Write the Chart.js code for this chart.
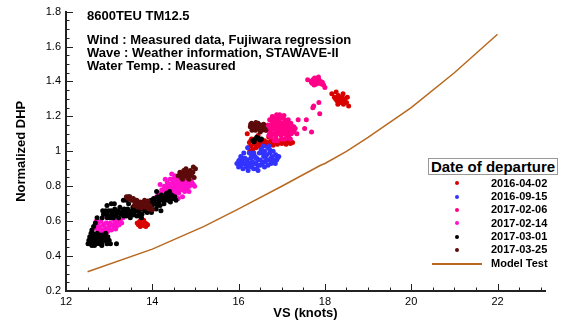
<!DOCTYPE html>
<html lang="en">
<head>
<meta charset="UTF-8">
<title>8600TEU TM12.5 - Normalized DHP</title>
<script src="https://cdn.jsdelivr.net/npm/chart.js"></script>
<style>
  html, body { margin: 0; padding: 0; background: #fff; }
  #wrap { position: relative; width: 567px; height: 323px; font-family: "Liberation Sans", Arial, sans-serif; }
  #wrap canvas { position: absolute; left: 0; top: 0; }
  .note { position: absolute; left: 87px; font-weight: bold; font-size: 13px; line-height: 13px; color: #000; white-space: nowrap; }
  #legendTitle { position: absolute; left: 428px; top: 158px; width: 128px; height: 15px; border: 1px solid #999; background: #fff;
                 font-weight: bold; font-size: 15px; line-height: 15px; text-align: center; white-space: nowrap; }
  .leg { position: absolute; left: 491px; font-weight: bold; font-size: 11px; line-height: 11px; white-space: nowrap; color: #000; }
  .dot { position: absolute; left: 455px; width: 4px; height: 4px; border-radius: 2px; }
  .legLine { position: absolute; left: 432px; width: 50px; height: 2px; }
</style>
</head>
<body>
<div id="wrap">
  <canvas id="dhpChart" width="567" height="323"></canvas>
  <div class="note" style="top:9px">8600TEU TM12.5</div>
  <div class="note" style="top:33px">Wind : Measured data, Fujiwara regression</div>
  <div class="note" style="top:46px">Wave : Weather information, STAWAVE-II</div>
  <div class="note" style="top:59px">Water Temp. : Measured</div>
  <div id="legendTitle">Date of departure</div>
  <div id="legendRows"></div>
</div>

<script>
// ---- data ----
const seriesLabels = ["2016-04-02", "2016-09-15", "2017-02-06", "2017-02-14", "2017-03-01", "2017-03-25"];

const dep160402 = [
  [13.65,0.59],[13.68,0.58],[13.71,0.60],[13.74,0.58],[13.77,0.595],[13.80,0.575],[13.83,0.59],[13.86,0.585],
  [13.89,0.58],[13.72,0.57],[13.80,0.605],[13.85,0.57],
  [16.22,1.02],[16.25,1.05],[16.28,1.03],[16.30,1.07],[16.33,1.01],[16.36,1.04],[16.40,1.02],[16.43,1.06],
  [16.46,1.03],[16.50,1.05],[16.53,1.01],[16.56,1.04],[16.60,1.06],[16.64,1.03],[16.68,1.05],[16.72,1.04],
  [16.76,1.06],[16.80,1.035],[16.85,1.05],[16.90,1.04],[16.95,1.06],[17.00,1.045],[17.05,1.05],[17.10,1.04],
  [17.15,1.055],[17.20,1.045],[17.25,1.05],[16.35,0.99],[16.45,1.09],[16.55,0.995],[16.70,1.08],[16.20,1.10],
  [16.28,1.06],[16.38,1.05],[16.48,1.04],[16.58,1.05],[16.26,1.00],
  [18.16,1.33],[18.22,1.31],[18.26,1.34],[18.28,1.29],[18.31,1.32],[18.34,1.30],[18.37,1.28],[18.40,1.31],
  [18.43,1.27],[18.46,1.30],[18.50,1.28],[18.55,1.26],[18.30,1.27],[18.42,1.33],[18.25,1.30],[18.52,1.31],
  [18.33,1.31],[18.38,1.30],[18.45,1.29]
];

const dep160915 = [
  [15.96,0.93],[16.00,0.91],[16.02,0.95],[16.05,0.92],[16.08,0.94],[16.10,0.90],[16.12,0.96],[16.15,0.93],
  [16.18,0.91],[16.20,0.95],[16.22,0.89],[16.25,0.93],[16.28,0.96],[16.30,0.91],[16.32,0.94],[16.35,0.90],
  [16.38,0.97],[16.40,0.93],[16.12,0.99],[16.05,0.97],[16.21,1.02],
  [16.42,0.96],[16.45,0.92],[16.48,0.99],[16.50,0.95],[16.52,1.01],[16.55,0.93],[16.58,0.97],[16.60,1.00],
  [16.62,0.94],[16.65,0.98],[16.68,1.02],[16.70,0.95],[16.72,0.99],[16.75,0.93],[16.78,0.97],[16.80,1.00],
  [16.83,0.95],[16.86,0.98],[16.90,0.96],[16.93,0.97],[16.57,1.03],[16.45,0.89],[16.60,0.91],[16.70,1.03],
  [16.35,0.99],[16.25,0.99],
  [16.15,0.96],[16.30,0.97],[16.45,0.95],[16.55,0.99],[16.65,0.95],[16.75,0.96],[16.85,0.93],[16.10,0.93],
  [16.20,0.92],[16.35,0.93],[16.50,0.92],[16.62,0.97],[16.72,1.01],[16.80,0.94],[16.40,0.96],[16.05,0.94],
  [16.27,0.915],[16.42,0.90],[16.58,0.94],[16.68,0.92],[16.88,0.95],[16.00,0.945]
];

const dep170206 = [
  [16.65,1.12],[16.68,1.15],[16.70,1.09],[16.72,1.18],[16.74,1.12],[16.76,1.15],[16.78,1.20],[16.80,1.10],
  [16.82,1.13],[16.84,1.17],[16.86,1.08],[16.88,1.21],[16.90,1.14],[16.92,1.11],[16.94,1.18],[16.96,1.15],
  [16.98,1.09],[17.00,1.12],[17.02,1.19],[17.04,1.16],[17.06,1.10],[17.08,1.13],[17.10,1.17],[17.12,1.11],
  [17.14,1.14],[17.16,1.08],[17.18,1.16],[17.20,1.12],[17.22,1.10],[17.25,1.14],[17.28,1.11],[17.31,1.13],
  [17.35,1.10],[16.80,1.16],[16.85,1.19],[16.95,1.21],[17.00,1.07],[16.75,1.08],[16.90,1.06],[17.05,1.205],
  [16.93,1.17],[16.87,1.12],[17.03,1.14],[16.97,1.12],[17.10,1.075],[16.83,1.06],[17.15,1.18],[17.20,1.07],
  [16.70,1.13],[16.78,1.14],[16.85,1.15],[16.92,1.15],[17.00,1.16],[17.07,1.18],[17.12,1.14],[17.18,1.13],
  [17.24,1.12],[16.82,1.10],[16.90,1.10],[16.98,1.13],[17.05,1.12],[17.13,1.09],[16.77,1.17],[16.86,1.16],
  [16.95,1.10],[17.02,1.10],[17.09,1.15],[16.72,1.10],[16.88,1.18],[16.97,1.19],[17.06,1.07],[17.16,1.11],
  [17.28,1.14],[17.21,1.16],[16.81,1.19],[16.91,1.20],
  [17.38,1.18],[17.57,1.18],[17.53,1.13],[17.69,1.11],[17.74,1.26],[17.86,1.28],[17.88,1.215],[17.72,1.25],
  [17.60,1.41],[17.68,1.40],[17.70,1.39],[17.72,1.41],[17.74,1.40],[17.76,1.42],[17.78,1.39],[17.80,1.41],
  [17.82,1.40],[17.84,1.395],[17.86,1.41],[17.88,1.39],[17.90,1.40],[17.92,1.385],[17.94,1.395],[17.97,1.38],
  [18.00,1.365],[17.75,1.38],[17.85,1.425],[17.80,1.385],
  [17.73,1.405],[17.79,1.40],[17.83,1.41],[17.87,1.40],[17.91,1.395]
];

const dep170214 = [
  [12.68,0.56],[12.72,0.58],[12.75,0.55],[12.78,0.57],[12.81,0.60],[12.84,0.55],[12.87,0.58],[12.90,0.56],
  [12.93,0.59],[12.96,0.54],[12.99,0.57],[13.02,0.59],[13.05,0.55],[13.08,0.58],[13.11,0.56],[13.14,0.59],
  [13.17,0.57],[13.20,0.60],[13.23,0.58],[13.26,0.61],[13.29,0.59],[13.32,0.62],[12.80,0.53],[12.95,0.62],
  [13.10,0.61],[12.70,0.60],[12.88,0.545],[13.00,0.555],[13.15,0.555],[12.76,0.595],
  [14.10,0.74],[14.15,0.76],[14.20,0.73],[14.22,0.78],[14.26,0.75],[14.28,0.80],[14.31,0.77],[14.33,0.74],
  [14.35,0.82],[14.37,0.79],[14.39,0.76],[14.41,0.84],[14.43,0.81],[14.45,0.78],[14.47,0.75],[14.49,0.83],
  [14.51,0.80],[14.53,0.77],[14.55,0.85],[14.57,0.82],[14.59,0.79],[14.61,0.76],[14.63,0.84],[14.65,0.81],
  [14.67,0.78],[14.69,0.86],[14.71,0.83],[14.73,0.80],[14.75,0.77],[14.77,0.84],[14.79,0.81],[14.81,0.79],
  [14.83,0.82],[14.86,0.80],[14.90,0.83],[14.95,0.81],[14.98,0.80],[14.30,0.84],[14.45,0.87],[14.60,0.73],
  [14.40,0.72],[14.52,0.86],[14.18,0.81],[14.70,0.74],[14.85,0.77],[14.48,0.79],[14.58,0.80],[14.62,0.78],
  [14.30,0.78],[14.36,0.76],[14.42,0.79],[14.50,0.81],[14.56,0.78],[14.64,0.82],[14.72,0.81],[14.80,0.83],
  [14.40,0.81],[14.47,0.84],[14.55,0.82],[14.66,0.85],[14.74,0.86],[14.25,0.77],[14.34,0.80],[14.60,0.84],
  [14.68,0.80],[14.76,0.79],[14.88,0.81],[14.92,0.82],[14.44,0.77],[14.53,0.75]
];

const dep170301 = [
  [12.51,0.47],[12.53,0.49],[12.55,0.51],[12.57,0.48],[12.60,0.46],[12.61,0.50],[12.63,0.52],[12.66,0.48],
  [12.68,0.50],[12.70,0.47],[12.72,0.53],[12.74,0.49],[12.76,0.51],[12.78,0.47],[12.82,0.50],
  [12.84,0.48],[12.86,0.52],[12.90,0.49],[12.92,0.53],[12.95,0.47],[12.97,0.51],[13.00,0.49],
  [13.03,0.47],[13.17,0.47],[12.66,0.46],[12.83,0.46],[12.58,0.53],
  [12.60,0.48],[12.65,0.50],[12.70,0.51],[12.77,0.49],[12.85,0.50],[12.92,0.51],[12.55,0.47],[12.80,0.52],
  [12.60,0.55],[12.64,0.57],[12.68,0.59],[12.72,0.62],[12.62,0.53],
  [12.84,0.62],[12.87,0.64],[12.93,0.64],[12.96,0.62],[12.99,0.66],[13.02,0.62],
  [13.05,0.63],[13.08,0.65],[13.10,0.62],[13.13,0.67],[13.16,0.63],[13.19,0.65],[13.22,0.62],[13.25,0.68],
  [13.28,0.64],[13.31,0.66],[13.34,0.63],[12.95,0.69],[13.12,0.70],[12.85,0.66],[13.40,0.72],
  [13.37,0.65],[13.40,0.63],[13.43,0.67],[13.46,0.64],[13.49,0.62],[13.52,0.66],[13.55,0.68],[13.58,0.64],
  [13.61,0.66],[13.64,0.63],[13.67,0.69],[13.70,0.65],[13.73,0.67],[13.76,0.64],[13.79,0.70],[13.82,0.66],
  [13.85,0.68],[13.88,0.65],[13.91,0.71],[13.45,0.70],[13.60,0.71],[13.75,0.62],
  [13.94,0.68],[13.97,0.72],[14.00,0.69],[14.03,0.73],[14.06,0.70],[14.09,0.67],[14.12,0.74],[14.15,0.71],
  [14.18,0.69],[14.21,0.75],[14.24,0.72],[14.27,0.70],[14.30,0.74],[14.33,0.76],[14.36,0.72],[14.39,0.74],
  [14.42,0.71],[14.45,0.75],[14.48,0.73],[14.52,0.74],[14.55,0.72],[14.10,0.77],[14.20,0.66],[14.40,0.77],
  [13.98,0.65],[13.33,0.72],[13.45,0.74],[13.05,0.70],
  [12.97,0.635],[13.05,0.66],[13.15,0.65],[13.25,0.645],[13.35,0.67],[13.50,0.65],[13.65,0.67],[13.80,0.68],
  [13.95,0.70],[14.05,0.72],[14.15,0.73],[14.25,0.74],[14.35,0.745],[14.45,0.73],[13.55,0.635],[13.70,0.63],
  [13.85,0.66],[14.00,0.71],[14.12,0.69],[14.28,0.72],[13.42,0.65],[13.20,0.66],[13.07,0.64],[12.92,0.66],
  [16.33,1.06],[16.38,1.07],[16.42,1.08],[16.46,1.075],[16.50,1.065],[16.53,1.07],[16.36,1.055]
];

const dep170325 = [
  [13.40,0.74],[13.44,0.73],[13.48,0.74],[13.52,0.72],[13.56,0.73],[13.60,0.71],[13.64,0.72],[13.68,0.70],
  [13.72,0.71],[13.76,0.69],[13.80,0.70],[13.84,0.68],[13.88,0.69],[13.92,0.67],[13.96,0.68],[14.00,0.665],
  [13.66,0.68],[13.74,0.675],[13.58,0.69],[13.82,0.72],[13.90,0.715],
  [13.50,0.725],[13.62,0.70],[13.70,0.695],[13.78,0.705],[13.86,0.70],[13.94,0.69],
  [14.60,0.86],[14.64,0.88],[14.67,0.85],[14.70,0.87],[14.73,0.89],[14.76,0.86],[14.79,0.88],[14.82,0.85],
  [14.85,0.87],[14.88,0.89],[14.91,0.86],[14.94,0.88],[14.97,0.85],[15.00,0.90],[14.70,0.84],[14.85,0.84],
  [14.95,0.91],[14.78,0.90],[14.75,0.875],[14.83,0.87],[14.90,0.875],[14.68,0.86],
  [16.27,1.14],[16.30,1.16],[16.33,1.13],[16.36,1.15],[16.39,1.12],[16.42,1.14],[16.45,1.16],[16.48,1.13],
  [16.51,1.15],[16.54,1.12],[16.57,1.14],[16.60,1.13],[16.63,1.12],[16.31,1.12],[16.40,1.165],[16.50,1.11],
  [16.58,1.155],[16.35,1.135],[16.45,1.13],[16.55,1.135],[16.28,1.155]
];

// model test curve
const modelVS  = [12.5, 14.0, 15.2, 16.0, 17.0, 17.9, 18.0, 18.5, 19.0, 20.0, 21.0, 22.0];
const modelDHP = [0.31, 0.44, 0.57, 0.67, 0.80, 0.92, 0.93, 1.00, 1.08, 1.25, 1.45, 1.67];

// axis ticks
const xTicks = [12, 14, 16, 18, 20, 22];
const yTicks = [0.2, 0.4, 0.6, 0.8, 1.0, 1.2, 1.4, 1.6, 1.8];

const seriesData = [dep160402, dep160915, dep170206, dep170214, dep170301, dep170325];
const seriesColors = ["#d90000", "#3333ff", "#ff0088", "#ff10cc", "#000000", "#5c0a0a"];
const modelColor = "#b8691f";
const FONT = "'Liberation Sans', Arial, sans-serif";

// legend rows (HTML)
const rows = document.getElementById("legendRows");
seriesLabels.forEach((lab, i) => {
    const cy = 183.3 + i * 13.3;
    rows.insertAdjacentHTML("beforeend",
        `<div class="dot" style="top:${cy - 2}px;background:${seriesColors[i]}"></div>` +
        `<div class="leg" style="top:${cy - 5.5}px">${lab}</div>`);
});
rows.insertAdjacentHTML("beforeend",
    `<div class="legLine" style="top:262.5px;background:${modelColor}"></div>` +
    `<div class="leg" style="top:258px">Model Test</div>`);

// inward tick marks, like the original plot
const tickPlugin = {
    id: "inwardTicks",
    afterDraw(chart) {
        const { ctx, chartArea, scales } = chart;
        const xs = scales.x, ys = scales.y;
        ctx.save();
        ctx.strokeStyle = "#222";
        ctx.lineWidth = 1;
        ctx.beginPath();
        for (let v = 12; v <= 23.01; v += 0.5) {
            const px = Math.round(xs.getPixelForValue(v)) + 0.5;
            const len = xTicks.includes(Math.round(v * 10) / 10) ? 7 : 3.5;
            ctx.moveTo(px, chartArea.bottom);
            ctx.lineTo(px, chartArea.bottom - len);
        }
        for (let v = 0.2; v <= 1.801; v += 0.05) {
            const py = Math.round(ys.getPixelForValue(v)) + 0.5;
            const major = yTicks.some(t => Math.abs(t - v) < 1e-6);
            ctx.moveTo(chartArea.left, py);
            ctx.lineTo(chartArea.left + (major ? 7 : 3.5), py);
        }
        ctx.stroke();
        ctx.restore();
    }
};

const datasets = seriesData.map((d, i) => ({
    label: seriesLabels[i],
    data: d.map(p => ({ x: p[0], y: p[1] })),
    backgroundColor: seriesColors[i],
    borderWidth: 0,
    pointRadius: 2.5,
    pointHoverRadius: 2.5,
    order: 10 - i
}));
datasets.push({
    label: "Model Test",
    data: modelVS.map((v, i) => ({ x: v, y: modelDHP[i] })),
    showLine: true,
    borderColor: modelColor,
    borderWidth: 1.5,
    pointRadius: 0,
    order: 0
});

new Chart(document.getElementById("dhpChart"), {
    type: "scatter",
    data: { datasets },
    plugins: [tickPlugin],
    options: {
        responsive: false,
        animation: false,
        layout: { padding: { left: 0, right: 22, top: 11, bottom: 0 } },
        plugins: { legend: { display: false }, tooltip: { enabled: false } },
        scales: {
            x: {
                type: "linear", min: 12, max: 23.1,
                afterBuildTicks: s => { s.ticks = xTicks.map(v => ({ value: v })); },
                afterFit: s => { s.height = 32; },
                grid: { display: false, drawTicks: false },
                border: { display: true, color: "#222", width: 2 },
                ticks: { color: "#000", font: { family: FONT, size: 11 }, padding: 4, maxRotation: 0 },
                title: { display: true, text: "VS (knots)", color: "#000",
                         font: { family: FONT, size: 13, weight: "bold" }, padding: { top: 0, bottom: 2 } }
            },
            y: {
                type: "linear", min: 0.2, max: 1.8,
                afterBuildTicks: s => { s.ticks = yTicks.map(v => ({ value: v })); },
                afterFit: s => { s.width = 66; },
                grid: { display: false, drawTicks: false },
                border: { display: true, color: "#222", width: 2 },
                ticks: { color: "#000", font: { family: FONT, size: 11 }, padding: 5,
                         callback: v => String(+v.toFixed(1)) },
                title: { display: true, text: "Normalized DHP", color: "#000",
                         font: { family: FONT, size: 13, weight: "bold" }, padding: { top: 14, bottom: 0 } }
            }
        }
    }
});
</script>
</body>
</html>
